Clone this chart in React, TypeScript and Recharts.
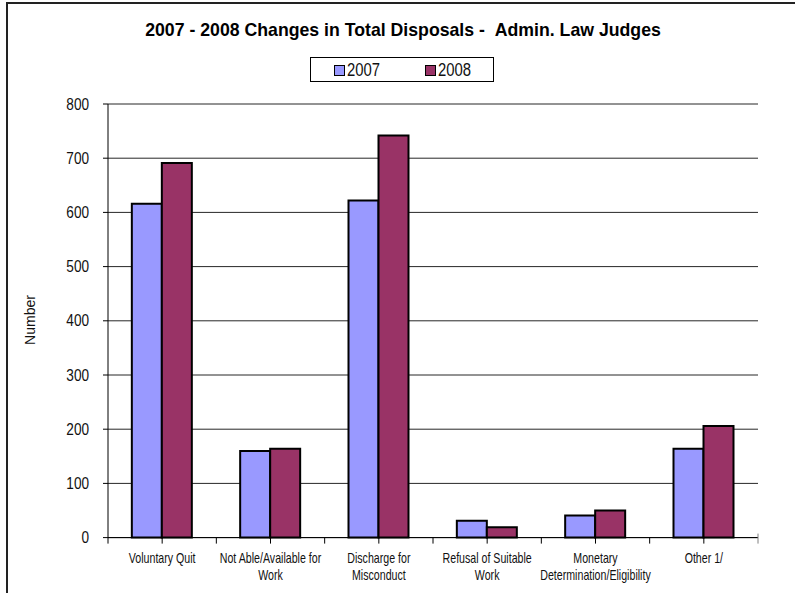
import React from 'react'
import { BarChart, Bar, XAxis, YAxis, CartesianGrid } from 'recharts'

const categories = [
  'Voluntary Quit',
  'Not Able/Available for\nWork',
  'Discharge for\nMisconduct',
  'Refusal of Suitable\nWork',
  'Monetary\nDetermination/Eligibility',
  'Other 1/',
]
const values2007 = [616, 160, 622, 31, 41, 164]
const values2008 = [691, 164, 742, 19, 50, 206]
const yTicks = [0, 100, 200, 300, 400, 500, 600, 700, 800]

const series = [
  { key: 'y2007', name: '2007', color: '#9999FF' },
  { key: 'y2008', name: '2008', color: '#993366' },
]

const data = categories.map((name, i) => ({ name, y2007: values2007[i], y2008: values2008[i] }))

const W = 795
const H = 593
const PLOT_LEFT = 108
const PLOT_RIGHT = 758
const PLOT_BOTTOM = 537.6
const X_AXIS_H = 30
const BAND = (PLOT_RIGHT - PLOT_LEFT) / categories.length
const ARIAL = '"Liberation Sans", Arial, sans-serif'

function CategoryTick(props: any) {
  const { x, y, payload, index } = props
  const lines = String(payload.value).split('\n')
  const axisY = y - 6
  return (
    <g>
      <line x1={x - BAND / 2} x2={x - BAND / 2} y1={axisY} y2={axisY + 6} stroke="#000" />
      {index === categories.length - 1 && (
        <line x1={x + BAND / 2} x2={x + BAND / 2} y1={axisY - 4} y2={axisY + 6} stroke="#808080" />
      )}
      <g transform={`translate(${x},${y}) scale(0.76,1)`}>
        <text x={0} y={0} textAnchor="middle" fontFamily={ARIAL} fontSize={14} fill="#111">
          {lines.map((l, i) => (
            <tspan key={i} x={0} dy={i === 0 ? 19 : 17}>{l}</tspan>
          ))}
        </text>
      </g>
    </g>
  )
}

function ValueTick(props: any) {
  const { x, y, payload } = props
  return (
    <g transform={`translate(${x},${y}) scale(0.85,1)`}>
      <text x={0} y={0} dy="0.355em" textAnchor="end" fontFamily={ARIAL} fontSize={16} fill="#111">
        {payload.value}
      </text>
    </g>
  )
}

export default function App() {
  return (
    <div style={{ position: 'absolute', left: 0, top: 0, width: W, height: H, overflow: 'hidden', background: '#fff' }}>
      <div style={{ position: 'absolute', left: 6, top: 2, width: 2000, height: 2000, borderLeft: '2px solid #222', borderTop: '2px solid #222' }} />
      <div
        style={{
          position: 'absolute', left: 0, top: 20, width: 806, textAlign: 'center',
          fontFamily: ARIAL, fontWeight: 'bold', fontSize: 17.7, lineHeight: '20px', color: '#000',
        }}
      >
        2007 - 2008 Changes in Total Disposals - &nbsp;Admin. Law Judges
      </div>
      <div
        style={{
          position: 'absolute', left: 310, top: 57, width: 182, height: 23, border: '1px solid #000',
          boxSizing: 'content-box', fontFamily: ARIAL, fontSize: 18, color: '#111',
        }}
      >
        {series.map((s, i) => (
          <div key={s.key} style={{ position: 'absolute', left: i === 0 ? 23 : 114, top: 1, display: 'flex', alignItems: 'center', height: 22 }}>
            <span style={{ display: 'inline-block', width: 9, height: 9, background: s.color, border: '1px solid #000', marginRight: 2 }} />
            <span style={{ display: 'inline-block', transform: 'scaleX(0.825)', transformOrigin: 'left center', lineHeight: '22px' }}>{s.name}</span>
          </div>
        ))}
      </div>
      <div style={{ position: 'absolute', left: 0, top: 0 }}>
        <BarChart
          width={W}
          height={H}
          data={data}
          margin={{ top: 104, right: W - PLOT_RIGHT, bottom: H - PLOT_BOTTOM - X_AXIS_H, left: 0 }}
          barCategoryGap="22%"
          barGap={0}
        >
          <CartesianGrid horizontal vertical={false} stroke="#000" strokeOpacity={0.85} />
          <XAxis
            dataKey="name"
            interval={0}
            height={X_AXIS_H}
            tick={<CategoryTick />}
            tickSize={6}
            tickMargin={0}
            axisLine={{ stroke: '#000' }}
            tickLine={{ stroke: '#000' }}
          />
          <YAxis
            width={PLOT_LEFT}
            domain={[0, 800]}
            ticks={yTicks}
            tickSize={5}
            tickMargin={14}
            axisLine={{ stroke: '#000' }}
            tickLine={{ stroke: '#000' }}
            tick={<ValueTick />}
            label={{
              content: () => (
                <text x={35} y={320} transform="rotate(-90 35 320)" textAnchor="middle" fontFamily={ARIAL} fontSize={14} fill="#111">
                  Number
                </text>
              ),
            }}
          />
          <YAxis
            yAxisId="frame"
            orientation="right"
            width={0}
            domain={[0, 800]}
            tick={false}
            tickLine={false}
            axisLine={{ stroke: '#808080' }}
          />
          {series.map((s) => (
            <Bar
              key={s.key}
              dataKey={s.key}
              name={s.name}
              fill={s.color}
              stroke="#000"
              strokeWidth={2}
              isAnimationActive={false}
            />
          ))}
        </BarChart>
      </div>
    </div>
  )
}
